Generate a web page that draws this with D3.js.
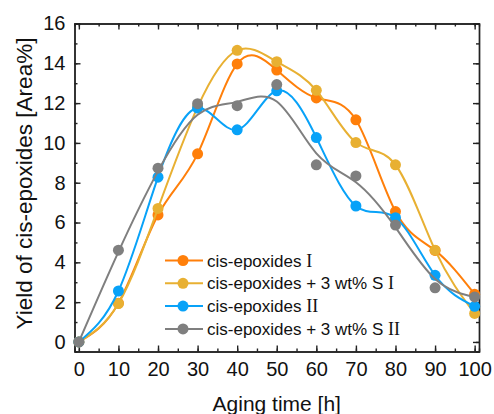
<!DOCTYPE html>
<html>
<head>
<meta charset="utf-8">
<script src="https://cdn.jsdelivr.net/npm/d3@7"></script>
<style>
  body { margin: 0; background: #fff; }
  text { font-family: Arial, "Liberation Sans", sans-serif; fill: #111; }
</style>
</head>
<body>
<svg id="main" width="494" height="414"></svg>
<script>
"use strict";

// data
const hours = [0, 10, 20, 30, 40, 50, 60, 70, 80, 90, 100];
const epoxI = [0, 1.95, 6.38, 9.45, 13.97, 13.66, 12.26, 11.16, 6.55, 4.6, 2.4];
const epoxSI = [0, 1.93, 6.71, 11.8, 14.65, 14.08, 12.64, 10.02, 8.9, 4.61, 1.43];
const epoxII = [0, 2.56, 8.28, 11.75, 10.66, 12.62, 10.27, 6.83, 6.24, 3.35, 1.79];
const epoxSII = [0, 4.61, 8.73, 11.97, 11.87, 12.93, 8.9, 8.34, 5.87, 2.72, 2.26];
const xTicks = [0, 10, 20, 30, 40, 50, 60, 70, 80, 90, 100];
const yTicks = [0, 2, 4, 6, 8, 10, 12, 14, 16];

const series = [
  { name: "cis-epoxides ", roman: "I", values: epoxI, color: "#ff7f0a", curve: d3.curveNatural },
  { name: "cis-epoxides + 3 wt% S ", roman: "I", values: epoxSI, color: "#e8b032", curve: d3.curveNatural },
  { name: "cis-epoxides ", roman: "II", values: epoxII, color: "#08a2f8", curve: d3.curveNatural },
  { name: "cis-epoxides + 3 wt% S ", roman: "II", values: epoxSII, color: "#7f7f7f", curve: d3.curveBasis }
];

//layout
const plotLeft = 74.5, plotRight = 479, plotTop = 23.5, plotBottom = 351.5;
const svg = d3.select("#main");

const x = d3.scaleLinear().domain([-1.1, 101.1]).range([plotLeft, plotRight]);
const y = d3.scaleLinear().domain([-0.48, 16]).range([plotBottom, plotTop]);

const axisColor = "#222";
const styleAxis = (g) => {
  g.selectAll("path, line").attr("stroke", axisColor).attr("stroke-width", 1.4);
  g.selectAll("text").attr("font-size", 20).attr("fill", "#111");
}

// minor ticks first
const minorX = d3.range(0, 101, 5);
const minorY = d3.range(0, 17, 1);
svg.append("g").attr("transform", `translate(0,${plotBottom})`)
  .call(d3.axisBottom(x).tickValues(minorX).tickSize(-3).tickFormat(""))
  .call(styleAxis);
svg.append("g").attr("transform", `translate(0,${plotTop})`)
  .call(d3.axisTop(x).tickValues(minorX).tickSize(-3).tickFormat(""))
  .call(styleAxis);
svg.append("g").attr("transform", `translate(${plotLeft},0)`)
  .call(d3.axisLeft(y).tickValues(minorY).tickSize(-3).tickFormat(""))
  .call(styleAxis);
svg.append("g").attr("transform", `translate(${plotRight},0)`)
  .call(d3.axisRight(y).tickValues(minorY).tickSize(-3).tickFormat(""))
  .call(styleAxis);

// major ticks
svg.append("g").attr("transform", `translate(0,${plotBottom})`)
  .call(d3.axisBottom(x).tickValues(xTicks).tickSize(-6).tickSizeOuter(0).tickPadding(10))
  .call(styleAxis);
svg.append("g").attr("transform", `translate(0,${plotTop})`)
  .call(d3.axisTop(x).tickValues(xTicks).tickSize(-6).tickSizeOuter(0).tickFormat(""))
  .call(styleAxis);
svg.append("g").attr("transform", `translate(${plotLeft},0)`)
  .call(d3.axisLeft(y).tickValues(yTicks).tickSize(-6).tickSizeOuter(0).tickPadding(9))
  .call(styleAxis);
svg.append("g").attr("transform", `translate(${plotRight},0)`)
  .call(d3.axisRight(y).tickValues(yTicks).tickSize(-6).tickSizeOuter(0).tickFormat(""))
  .call(styleAxis);

// axis titles
svg.append("text")
  .attr("x", (plotLeft + plotRight) / 2)
  .attr("y", 411)
  .attr("text-anchor", "middle")
  .attr("font-size", 21)
  .text("Aging time [h]");
svg.append("text")
  .attr("transform", `translate(32,${(plotTop + plotBottom) / 2 - 4}) rotate(-90)`)
  .attr("text-anchor", "middle")
  .attr("font-size", 22.5)
  .text("Yield of cis-epoxides [Area%]");

// lines and points
series.forEach((s) => {
  const pts = hours.map((h, i) => [h, s.values[i]]);
  const line = d3.line().x(d => x(d[0])).y(d => y(d[1])).curve(s.curve);
  const g = svg.append("g");
  g.append("path")
    .attr("d", line(pts))
    .attr("fill", "none")
    .attr("stroke", s.color)
    .attr("stroke-width", 2);
  g.selectAll("circle").data(pts).enter().append("circle")
    .attr("cx", d => x(d[0]))
    .attr("cy", d => y(d[1]))
    .attr("r", 5.5)
    .attr("fill", s.color);
});

// legend
const legend = svg.append("g");
series.forEach((s, i) => {
  const ly = 260.5 + i * 22.8;
  legend.append("line")
    .attr("x1", 165).attr("x2", 203)
    .attr("y1", ly).attr("y2", ly)
    .attr("stroke", s.color).attr("stroke-width", 2);
  legend.append("circle")
    .attr("cx", 183).attr("cy", ly).attr("r", 5.5)
    .attr("fill", s.color);
  const t = legend.append("text")
    .attr("x", 207).attr("y", ly + 6)
    .attr("font-size", 17);
  t.append("tspan").text(s.name);
  t.append("tspan")
    .style("font-family", "'Liberation Serif', 'Times New Roman', serif")
    .attr("font-size", 18)
    .text(s.roman);
});
</script>
</body>
</html>
